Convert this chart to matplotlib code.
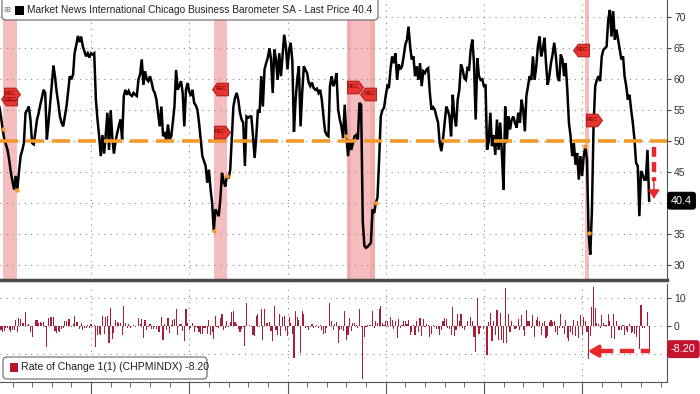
import numpy as np
import pandas as pd
import matplotlib
matplotlib.use("Agg")
import matplotlib.pyplot as plt
import matplotlib.dates as mdates
from matplotlib.patches import FancyBboxPatch, Rectangle
from matplotlib.path import Path
from matplotlib.transforms import IdentityTransform

plt.rcParams['font.family'] = ['Liberation Sans', 'DejaVu Sans']

# Chicago Business Barometer SA, monthly, Mar 1990 .. May 2023
pmi_1990s = [
    56.0, 55.6, 54.0, 52.0, 50.3, 49.5, 48.6, 47.0, 45.0, 43.5,
    42.2, 44.4, 42.2, 45.0, 47.6, 48.5, 49.7, 54.6, 55.0, 55.6, 53.5, 49.7,
    49.5, 51.5, 53.5, 54.5, 55.9, 57.0, 58.3, 57.8, 50.3, 53.0, 56.0, 59.0,
    62.2, 60.5, 58.0, 56.2, 54.0, 53.0, 52.4, 54.0, 55.6, 58.0, 60.5, 60.0,
    60.8, 64.2, 65.5, 67.0, 66.0, 66.9, 65.3, 64.5, 63.7, 64.2, 63.5, 64.2,
    64.0, 64.2, 56.7, 53.5, 50.8, 47.6, 51.0, 48.0, 51.0, 54.6, 48.6, 55.0,
    50.5, 48.0, 50.0, 51.3, 52.5, 53.5, 50.3, 57.3, 58.3, 57.5, 58.1, 57.5,
    57.3, 57.8, 57.5, 57.3, 60.0, 60.8, 63.2, 59.1, 61.3, 60.0, 59.7, 60.5,
    59.5, 58.3, 57.8, 56.7, 54.5, 52.4, 55.6, 50.8, 51.5, 50.0, 52.7, 50.3,
    50.8, 53.0, 55.6, 61.5, 58.3, 59.0, 59.7, 57.8, 52.4, 58.3, 59.4, 58.0,
]
pmi_2000s = [
    57.3, 58.3, 56.2, 55.8, 55.1, 53.0, 50.3, 47.6, 46.8, 46.0, 43.3, 45.4,
    42.2, 40.1, 35.5, 39.0, 38.5, 37.9, 40.6, 44.9, 43.5, 42.7, 44.4, 44.0,
    45.4, 50.3, 55.6, 57.0, 57.8, 56.7, 54.6, 53.5, 53.0, 46.0, 54.0, 53.8,
    54.0, 54.0, 50.8, 47.3, 50.8, 55.1, 54.6, 60.5, 55.6, 61.6, 62.6, 63.5,
    65.0, 63.2, 57.8, 64.8, 63.2, 59.9, 64.2, 60.5, 63.7, 67.2, 65.3, 61.6,
    64.8, 65.9, 63.0, 51.5, 56.7, 60.0, 62.1, 52.4, 57.8, 62.1, 61.5, 61.0,
    59.4, 58.9, 59.5, 58.6, 58.3, 58.5, 57.8, 58.3, 56.7, 54.0, 51.6, 51.0,
    50.8, 58.9, 60.5, 58.9, 59.5, 61.0, 55.1, 53.5, 52.4, 50.5, 55.9, 50.8,
    47.6, 50.3, 48.6, 49.7, 50.8, 51.0, 50.3, 56.2, 55.9, 37.0, 33.1, 32.8,
    33.0, 33.3, 33.6, 39.0, 38.4, 40.0, 40.9, 47.0, 54.0, 55.0, 55.4, 57.3,
]
pmi_2010s = [
    58.9, 58.6, 61.6, 63.7, 62.6, 64.2, 59.9, 62.4, 61.6, 62.1, 63.7, 65.6,
    66.4, 68.5, 65.3, 63.2, 63.7, 60.5, 62.1, 59.9, 62.6, 58.9, 61.3, 61.0,
    61.6, 61.8, 57.8, 55.1, 55.5, 55.1, 54.0, 53.0, 49.7, 48.4, 50.3, 53.0,
    55.6, 55.0, 54.0, 50.8, 57.5, 54.0, 52.4, 56.7, 58.3, 62.4, 61.6, 60.2,
    59.9, 61.8, 61.6, 64.8, 66.4, 62.6, 53.5, 63.4, 60.5, 59.9, 60.0, 58.9,
    59.0, 48.6, 50.0, 54.6, 49.2, 51.0, 47.8, 53.5, 48.6, 53.0, 48.1, 42.2,
    55.6, 49.7, 54.0, 51.9, 53.5, 54.0, 53.0, 52.2, 54.6, 53.0, 56.7, 55.1,
    51.6, 57.3, 58.9, 60.5, 59.9, 63.7, 59.9, 62.1, 65.3, 66.9, 63.7, 64.8,
    66.7, 62.6, 59.1, 60.5, 62.6, 64.0, 65.9, 63.7, 60.5, 59.7, 64.0, 63.2,
    60.5, 62.6, 58.3, 53.0, 50.8, 47.6, 49.7, 46.2, 48.1, 43.8, 47.6, 44.4,
]
pmi_2020s = [
    47.6, 49.2, 47.0, 35.2, 31.7, 38.5, 52.4, 58.9, 59.9, 60.5, 59.7, 63.7,
    64.8, 65.0, 65.3, 69.6, 71.2, 66.9, 71.0, 66.4, 68.0, 66.4, 64.8, 63.2,
    63.7, 60.5, 58.9, 56.7, 57.5, 55.1, 53.0, 50.3, 46.5, 46.0, 37.9, 45.2,
    44.6, 43.8, 43.8, 48.6, 40.4,
]

rec_start = ["1990-07-12", "2001-04-01", "2008-01-03", "2020-02-25"]
rec_end = ["1991-03-18", "2001-12-01", "2009-06-15", "2020-05-05"]

pmi = np.array(pmi_1990s + pmi_2000s + pmi_2010s + pmi_2020s)
dates = pd.date_range("1990-03-01", periods=len(pmi), freq="MS") + pd.offsets.MonthEnd(0)
roc = np.r_[np.nan, np.diff(pmi)]
s = pd.Series(pmi, index=dates)

ORANGE = "#F39A2B"
RED = "#E8262A"
BAR = "#A61F38"
GRID = dict(color="#8a8a8a", linestyle=(0, (1, 4.5)), linewidth=0.8)

fig = plt.figure(figsize=(7, 3.94), dpi=100)
ax1 = fig.add_axes([0, 114 / 394, 667 / 700, 280 / 394])
ax2 = fig.add_axes([0, 12 / 394, 667 / 700, 98 / 394])

x0, x1 = pd.Timestamp("1990-05-13"), pd.Timestamp("2024-04-27")

# ---- top panel
for a, b in zip(rec_start, rec_end):
    ax1.axvspan(pd.Timestamp(a), pd.Timestamp(b), color="#F5BDBD", lw=0, zorder=0)
# the long 2008 band is darker towards its edges
ax1.axvspan(pd.Timestamp("2008-01-03"), pd.Timestamp("2008-04-01"), color="#F09C9C", alpha=0.5, lw=0, zorder=0)
ax1.axvspan(pd.Timestamp("2009-03-15"), pd.Timestamp("2009-06-15"), color="#F09C9C", alpha=0.5, lw=0, zorder=0)

ax1.plot(dates, pmi, color="black", lw=1.8, zorder=3, solid_joinstyle="miter")
ax1.axhline(50, color=ORANGE, lw=2.6, dashes=(5, 2.2), zorder=4)

# small markers where recessions begin / end
for d in rec_start + rec_end:
    t = s.index[s.index.get_indexer([pd.Timestamp(d)], method="nearest")[0]]
    ax1.plot(t, s[t], "o", ms=2.2, color=ORANGE, zorder=4)


def tag(direction):
    v = [(-1, -0.8), (0.4, -0.8), (1, 0), (0.4, 0.8), (-1, 0.8), (-1, -0.8)]
    if direction == "l":
        v = [(-x, y) for x, y in v]
    return Path(v, [Path.MOVETO] + [Path.LINETO] * 4 + [Path.CLOSEPOLY])


rec_tags = [("1990-10-28", 56.8, "l"), ("1990-12-21", 57.7, "r"),
            ("2001-07-24", 58.5, "l"), ("2001-09-01", 51.5, "r"),
            ("2008-06-01", 58.8, "r"), ("2009-02-06", 57.7, "l"),
            ("2019-12-10", 64.8, "l"), ("2020-08-10", 53.5, "r")]
for d, y, k in rec_tags:
    ax1.plot(pd.Timestamp(d), y, marker=tag(k), ms=11.5, mfc="#E8352F",
             mec="#9B1111", mew=0.6, ls="none", zorder=6)
    ax1.annotate("REC", (pd.Timestamp(d), y), xytext=(1.2 if k == "l" else -1.2, 0),
                 textcoords="offset points", fontsize=3.8, color="#6B0000",
                 ha="center", va="center", zorder=7)

# red dashed arrow down to the last print
xa = pd.Timestamp("2023-08-28")
ax1.plot([xa, xa], [49.0, 43.6], color=RED, lw=3.2, dashes=(2.2, 1.2), zorder=6,
         solid_capstyle="butt")
ax1.annotate("", xy=(xa, 40.7), xytext=(xa, 43.7),
             arrowprops=dict(arrowstyle="-|>,head_length=0.55,head_width=0.35",
                             color=RED, lw=1, shrinkA=0, shrinkB=0), zorder=6)

ax1.set_xlim(x0, x1)
ax1.set_ylim(27.6, 72.8)
ax1.yaxis.tick_right()
yt = list(range(30, 71, 5))
ax1.set_yticks(yt)
# the 40 label sits under the last-price box
ax1.set_yticklabels(["" if v == 40 else str(v) for v in yt])
ax1.tick_params(axis="y", labelsize=7.5, length=3, color="#444", labelcolor="#333", pad=2)
ax1.xaxis.set_major_locator(mdates.YearLocator(5))
ax1.tick_params(axis="x", length=0, labelbottom=False)
ax1.grid(True, **GRID)
ax1.set_axisbelow(True)
for sp in ["left", "top"]:
    ax1.spines[sp].set_visible(False)
ax1.spines["right"].set_color("#555")
ax1.spines["bottom"].set_color("#4a4a4a")
ax1.spines["bottom"].set_linewidth(2.5)

ax1.text(1.006, 40.4, "40.4", transform=ax1.get_yaxis_transform(), fontsize=7.8,
         color="white", ha="left", va="center", zorder=10, clip_on=False,
         bbox=dict(boxstyle="round,pad=0.3,rounding_size=0.2", fc="black", ec="black"))

# ---- bottom panel
ax2.bar(dates, roc, width=21, color=BAR, linewidth=0, zorder=3)
xb = pd.Timestamp("2020-04-18")
xe = pd.Timestamp("2023-06-15")
ax2.plot([pd.Timestamp("2020-11-15"), xe], [-8.9, -8.9], color=RED, lw=3.2,
         dashes=(3.2, 1.5), zorder=6, solid_capstyle="butt")
ax2.annotate("", xy=(xb, -8.9), xytext=(pd.Timestamp("2020-12-20"), -8.9),
             arrowprops=dict(arrowstyle="-|>,head_length=0.6,head_width=0.35",
                             color=RED, lw=2.5, shrinkA=0, shrinkB=0), zorder=6)

ax2.set_xlim(x0, x1)
ax2.set_ylim(-19.8, 14.8)
ax2.yaxis.tick_right()
ax2.set_yticks([-10, 0, 10])
ax2.set_yticklabels(["", "0", "10"])
ax2.tick_params(axis="y", labelsize=7.5, length=3, color="#444", labelcolor="#333", pad=2)
ax2.xaxis.set_major_locator(mdates.YearLocator(5))
ax2.xaxis.set_minor_locator(mdates.YearLocator(1))
ax2.tick_params(axis="x", which="major", length=9, color="#555", labelbottom=False)
ax2.tick_params(axis="x", which="minor", length=3.5, color="#555")
ax2.grid(True, **GRID)
ax2.set_axisbelow(True)
ax2.spines["left"].set_visible(False)
ax2.spines["top"].set_visible(False)
ax2.spines["right"].set_color("#555")
ax2.spines["bottom"].set_color("#555")

ax2.text(1.006, roc[-1], "-8.20", transform=ax2.get_yaxis_transform(), fontsize=7.8,
         color="white", ha="left", va="center", zorder=10, clip_on=False,
         bbox=dict(boxstyle="round,pad=0.3,rounding_size=0.2", fc="#C4122F", ec="#C4122F"))

# ---- legend boxes (pixel positions)
px = IdentityTransform()
H = 394
fig.patches.append(FancyBboxPatch((2, H - 20), 376, 30, boxstyle="round,pad=0,rounding_size=4",
                                  fc="white", ec="#666", lw=0.8, transform=px))
fig.text(6.5, H - 10, "\u229e", transform=px, fontsize=6, color="#777",
         ha="center", va="center", family=["DejaVu Sans"])
fig.patches.append(Rectangle((15, H - 15), 9, 9, fc="black", ec="none", transform=px))
fig.text(27, H - 10, "Market News International Chicago Business Barometer SA - Last Price 40.4",
         transform=px, fontsize=7.3, color="#222", ha="left", va="center")

fig.patches.append(FancyBboxPatch((3, H - 379), 204, 22, boxstyle="round,pad=0,rounding_size=4",
                                  fc="white", ec="#666", lw=0.8, transform=px))
fig.patches.append(Rectangle((10, H - 372), 8, 9, fc="#B8142A", ec="none", transform=px))
fig.text(21, H - 367.5, "Rate of Change 1(1) (CHPMINDX) -8.20", transform=px,
         fontsize=7.6, color="#222", ha="left", va="center")

fig.savefig("out.png", dpi=100)
